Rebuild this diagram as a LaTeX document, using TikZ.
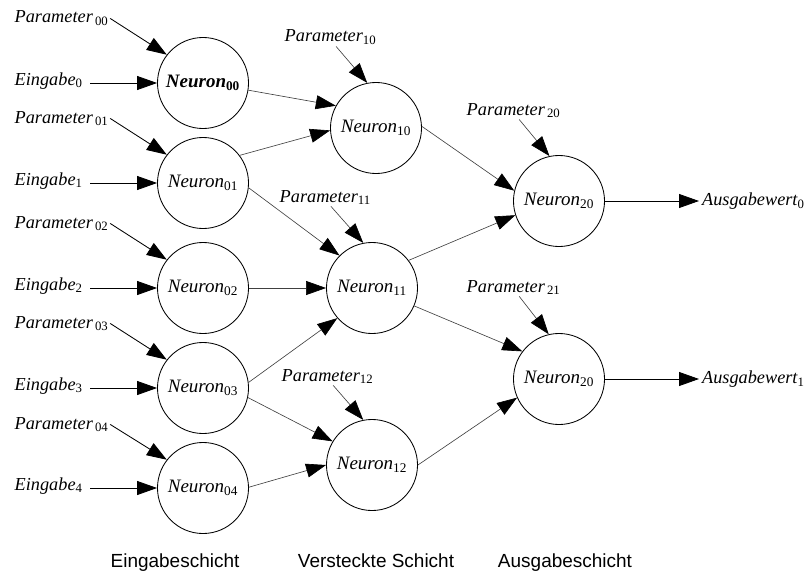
\documentclass[tikz,border=0pt]{standalone}
\usepackage{fontspec}
\setmainfont{Liberation Serif}
\setsansfont{Liberation Sans}
\usetikzlibrary{arrows.meta}

\newcommand{\nsub}[1]{\textsubscript{\upshape #1}}

\tikzset{
  neuron/.style = {
    circle, draw, line width = 0.6pt, minimum size = 2.275cm,
    inner sep = 0pt, font = \fontsize{13.5}{16}\selectfont\itshape
  },
  inname/.style = {
    anchor = base west, inner sep = 1pt, font = \fontsize{13}{16}\selectfont\itshape
  },
  outname/.style = {
    anchor = west, inner sep = 2pt, font = \fontsize{13}{16}\selectfont\itshape
  },
  layername/.style = {
    anchor = base, inner sep = 0pt, font = \fontsize{13.5}{16}\selectfont\sffamily
  },
  feed/.style = {
    -{Triangle[length = 5mm, width = 3.5mm, black]}, line width = 0.6pt
  },
  link/.style = {
    -{Triangle[length = 5mm, width = 3.5mm, black]}, line width = 0.45pt,
    draw = black!75
  }
}

\begin{document}
\begin{tikzpicture}[x = 0.025cm, y = -0.025cm]
      \useasboundingbox (0,0) rectangle (809,572);

      % Eingabeschicht
      \node [neuron, font = \fontsize{13.5}{16}\selectfont\bfseries\itshape] (n00) at (203,83)
        {Neuron\nsub{00}};
      \node [neuron] (n01) at (203,183) {Neuron\nsub{01}};
      \node [neuron] (n02) at (203,288) {Neuron\nsub{02}};
      \node [neuron] (n03) at (203,388) {Neuron\nsub{03}};
      \node [neuron] (n04) at (203,488) {Neuron\nsub{04}};

      % Versteckte Schicht
      \node [neuron] (n10) at (376,128) {Neuron\nsub{10}};
      \node [neuron] (n11) at (372,288) {Neuron\nsub{11}};
      \node [neuron] (n12) at (372,465) {Neuron\nsub{12}};

      % Ausgabeschicht
      \node [neuron] (n20) at (559,201) {Neuron\nsub{20}};
      \node [neuron] (n21) at (559,379) {Neuron\nsub{20}};

      % Eingaben und Parameter
      \node [inname] (e0) at (13,85) {Eingabe\nsub{0}};
      \node [inname] (e1) at (13,185) {Eingabe\nsub{1}};
      \node [inname] (e2) at (13,290) {Eingabe\nsub{2}};
      \node [inname] (e3) at (13,390) {Eingabe\nsub{3}};
      \node [inname] (e4) at (13,490) {Eingabe\nsub{4}};
      \node [inname] (p00) at (13,23) {Parameter\nsub{\,00}};
      \node [inname] (p01) at (13,123) {Parameter\nsub{\,01}};
      \node [inname] (p02) at (13,228) {Parameter\nsub{\,02}};
      \node [inname] (p03) at (13,328) {Parameter\nsub{\,03}};
      \node [inname] (p04) at (13,429) {Parameter\nsub{\,04}};
      \node [inname] (p10) at (283,42) {Parameter\nsub{10}};
      \node [inname] (p11) at (278,202) {Parameter\nsub{11}};
      \node [inname] (p12) at (280,381) {Parameter\nsub{12}};
      \node [inname] (p20) at (465,115) {Parameter\nsub{\,20}};
      \node [inname] (p21) at (465,292) {Parameter\nsub{\,21}};

      % Ausgabewerte
      \node [outname] (a0) at (699,201) {Ausgabewert\nsub{0}};
      \node [outname] (a1) at (699,379) {Ausgabewert\nsub{1}};

      \draw [feed] ([xshift = 4pt] e0.east |- n00.west) -- (n00.west);
      \draw [feed] ([xshift = 4pt] e1.east |- n01.west) -- (n01.west);
      \draw [feed] ([xshift = 4pt] e2.east |- n02.west) -- (n02.west);
      \draw [feed] ([xshift = 4pt] e3.east |- n03.west) -- (n03.west);
      \draw [feed] ([xshift = 4pt] e4.east |- n04.west) -- (n04.west);
      \draw [feed] (p00.east) -- (n00.142);
      \draw [feed] (p01.east) -- (n01.142);
      \draw [feed] (p02.east) -- (n02.142);
      \draw [feed] (p03.east) -- (n03.142);
      \draw [feed] (p04.east) -- (n04.142);
      \draw [link] ([xshift = 4pt] p10.south) -- (n10.101);
      \draw [link] ([xshift = 4pt] p11.south) -- (n11.101);
      \draw [link] ([xshift = 4pt] p12.south) -- (n12.101);
      \draw [link] ([xshift = 4pt] p20.south) -- (n20.102);
      \draw [link] ([xshift = 4pt] p21.south) -- (n21.103);

      \draw [link] (n00.-9) -- (n10.151);
      \draw [link] (n01.37) -- (n10.183);
      \draw [link] (n01.-6) -- (n11.135);
      \draw [link] (n02.east) -- (n11.west);
      \draw [link] (n03.7) -- (n11.221);
      \draw [link] (n03.-12) -- (n12.149);
      \draw [link] (n04.1) -- (n12.180);
      \draw [link] (n10.2) -- (n20.167);
      \draw [link] (n11.37) -- (n20.198);
      \draw [link] (n11.-23) -- (n21.143);
      \draw [link] (n12.0) -- (n21.204);

      \draw [feed] (n20) -- (a0);
      \draw [feed] (n21) -- (a1);

      % Schichten
      \node [layername] (s0) at (175,567) {Eingabeschicht};
      \node [layername] (s1) at (376,567) {Versteckte Schicht};
      \node [layername] (s2) at (565,567) {Ausgabeschicht};
\end{tikzpicture}
\end{document}
